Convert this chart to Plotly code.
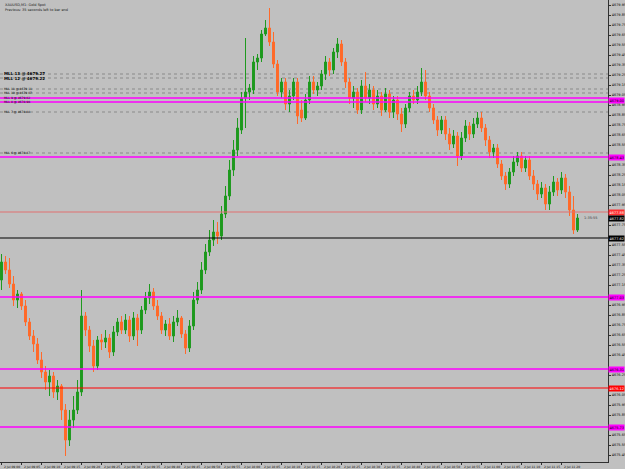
import plotly.graph_objects as go

bar_index = list(range(145))

open_ = [4677.20,4677.38,4677.30,4677.16,4677.00,4677.06,4676.94,4676.78,4676.64,4676.56,
4676.40,4676.28,4676.18,4676.24,4676.08,4676.14,4675.90,4675.60,4675.80,4675.90,
4676.08,4676.84,4676.70,4676.54,4676.34,4676.60,4676.58,4676.62,4676.48,4676.68,
4676.78,4676.70,4676.80,4676.64,4676.82,4676.70,4676.90,4677.02,4677.08,4676.94,
4676.84,4676.70,4676.76,4676.64,4676.78,4676.82,4676.66,4676.52,4676.74,4677.00,
4677.10,4677.30,4677.48,4677.60,4677.68,4677.64,4677.86,4678.04,4678.30,4678.50,
4678.70,4679.02,4679.08,4679.10,4679.38,4679.42,4679.66,4679.72,4679.58,4679.36,
4679.08,4679.18,4678.96,4679.04,4679.18,4678.90,4678.82,4679.00,4679.18,4679.10,
4679.14,4679.26,4679.38,4679.30,4679.48,4679.56,4679.38,4679.18,4679.02,4679.08,
4678.90,4679.14,4679.02,4679.10,4678.96,4679.04,4678.90,4679.06,4678.88,4679.00,
4678.86,4678.76,4678.92,4679.04,4679.00,4679.08,4679.18,4679.04,4678.92,4678.80,
4678.70,4678.80,4678.66,4678.56,4678.64,4678.44,4678.62,4678.74,4678.66,4678.76,
4678.82,4678.72,4678.60,4678.48,4678.52,4678.36,4678.24,4678.16,4678.28,4678.38,
4678.44,4678.32,4678.40,4678.24,4678.16,4678.06,4678.12,4677.96,4678.08,4678.18,
4678.10,4678.22,4678.08,4677.90,4677.70]

high = [4677.46,4677.44,4677.42,4677.24,4677.10,4677.08,4677.00,4676.82,4676.70,4676.62,
4676.48,4676.34,4676.30,4676.28,4676.20,4676.16,4675.96,4675.90,4676.04,4676.20,
4677.10,4676.88,4676.74,4676.60,4676.64,4676.66,4676.70,4676.66,4676.74,4676.82,
4676.84,4676.86,4676.84,4676.88,4676.86,4676.94,4677.08,4677.16,4677.12,4677.00,
4676.88,4676.80,4676.82,4676.84,4676.90,4676.84,4676.70,4676.80,4677.08,4677.18,
4677.38,4677.56,4677.70,4677.80,4677.78,4677.94,4678.14,4678.40,4678.60,4678.82,
4679.08,4679.62,4679.16,4679.44,4679.46,4679.70,4679.80,4679.92,4679.68,4679.40,
4679.22,4679.22,4679.10,4679.22,4679.22,4679.00,4679.06,4679.24,4679.24,4679.18,
4679.30,4679.44,4679.42,4679.52,4679.62,4679.60,4679.42,4679.22,4679.14,4679.12,
4679.20,4679.28,4679.16,4679.14,4679.10,4679.08,4679.12,4679.10,4679.04,4679.04,
4678.92,4678.96,4679.08,4679.10,4679.14,4679.32,4679.30,4679.08,4678.96,4678.84,
4678.84,4678.84,4678.72,4678.70,4678.68,4678.68,4678.80,4678.78,4678.82,4678.88,
4678.88,4678.76,4678.64,4678.56,4678.56,4678.40,4678.28,4678.32,4678.44,4678.48,
4678.48,4678.44,4678.44,4678.30,4678.20,4678.18,4678.16,4678.14,4678.24,4678.22,
4678.28,4678.26,4678.14,4678.04,4677.86]

low = [4677.10,4677.26,4677.12,4676.94,4676.92,4676.90,4676.74,4676.60,4676.48,4676.36,
4676.22,4676.10,4676.04,4676.02,4676.00,4675.80,4675.44,4675.54,4675.72,4675.86,
4676.04,4676.64,4676.48,4676.28,4676.30,4676.50,4676.52,4676.42,4676.44,4676.64,
4676.66,4676.66,4676.58,4676.60,4676.54,4676.66,4676.86,4676.96,4676.90,4676.80,
4676.66,4676.64,4676.60,4676.58,4676.74,4676.62,4676.46,4676.48,4676.70,4676.96,
4677.06,4677.26,4677.44,4677.54,4677.56,4677.60,4677.82,4678.00,4678.24,4678.44,
4678.66,4678.72,4679.00,4679.06,4679.30,4679.38,4679.64,4679.54,4679.32,4679.04,
4679.02,4678.90,4678.88,4679.00,4678.76,4678.78,4678.80,4678.96,4679.06,4679.04,
4679.10,4679.20,4679.24,4679.26,4679.42,4679.34,4679.12,4678.96,4678.92,4678.86,
4678.86,4678.98,4678.96,4678.90,4678.92,4678.84,4678.88,4678.82,4678.82,4678.80,
4678.68,4678.72,4678.88,4678.96,4678.96,4679.04,4679.00,4678.88,4678.76,4678.64,
4678.66,4678.60,4678.50,4678.52,4678.34,4678.40,4678.58,4678.60,4678.62,4678.72,
4678.68,4678.54,4678.42,4678.42,4678.32,4678.20,4678.10,4678.12,4678.24,4678.34,
4678.28,4678.28,4678.20,4678.10,4678.00,4678.02,4677.90,4677.90,4678.04,4678.04,
4678.06,4678.02,4677.84,4677.66,4677.68]

close = [4677.38,4677.30,4677.16,4677.00,4677.06,4676.94,4676.78,4676.64,4676.56,4676.40,
4676.28,4676.18,4676.24,4676.08,4676.14,4675.90,4675.60,4675.80,4675.90,4676.08,
4676.84,4676.70,4676.54,4676.34,4676.60,4676.58,4676.62,4676.48,4676.68,4676.78,
4676.70,4676.80,4676.64,4676.82,4676.70,4676.90,4677.02,4677.08,4676.94,4676.84,
4676.70,4676.76,4676.64,4676.78,4676.82,4676.66,4676.52,4676.74,4677.00,4677.10,
4677.30,4677.48,4677.60,4677.68,4677.64,4677.86,4678.04,4678.30,4678.50,4678.72,
4679.02,4679.08,4679.12,4679.38,4679.42,4679.66,4679.72,4679.58,4679.36,4679.08,
4679.18,4678.96,4679.04,4679.18,4678.84,4678.82,4679.00,4679.18,4679.10,4679.14,
4679.26,4679.38,4679.30,4679.48,4679.56,4679.38,4679.18,4679.02,4679.08,4678.90,
4679.14,4679.02,4679.10,4678.96,4679.04,4678.90,4679.06,4678.88,4679.00,4678.86,
4678.76,4678.92,4679.04,4679.00,4679.08,4679.18,4679.04,4678.92,4678.80,4678.70,
4678.80,4678.66,4678.56,4678.64,4678.44,4678.62,4678.74,4678.66,4678.76,4678.82,
4678.72,4678.60,4678.48,4678.52,4678.36,4678.24,4678.16,4678.28,4678.38,4678.44,
4678.32,4678.40,4678.24,4678.16,4678.06,4678.12,4677.96,4678.08,4678.18,4678.10,
4678.22,4678.08,4677.90,4677.70,4677.82]

# time axis labels (every 5 bars)
time_tick_bars = [0,5,10,15,20,25,30,35,40,45,50,55,60,65,70,75,80,85,90,95,100,105,110,115,120,125,130,135,140]
time_tick_labels = ["2 Jul 09:00","2 Jul 09:05","2 Jul 09:10","2 Jul 09:15","2 Jul 09:20","2 Jul 09:25",
                    "2 Jul 09:30","2 Jul 09:35","2 Jul 09:40","2 Jul 09:45","2 Jul 09:50","2 Jul 09:55",
                    "2 Jul 10:00","2 Jul 10:05","2 Jul 10:10","2 Jul 10:15","2 Jul 10:20","2 Jul 10:25",
                    "2 Jul 10:30","2 Jul 10:35","2 Jul 10:40","2 Jul 10:45","2 Jul 10:50","2 Jul 10:55",
                    "2 Jul 11:00","2 Jul 11:05","2 Jul 11:10","2 Jul 11:15","2 Jul 11:20"]

# price axis tick labels (those hidden under the level boxes are left out)
price_ticks = [4679.95,4679.85,4679.75,4679.65,4679.55,4679.45,4679.35,4679.25,4679.15,4679.05,
               4678.95,4678.85,4678.75,4678.65,4678.55,4678.35,4678.25,4678.15,4678.05,
               4677.95,4677.75,4677.55,4677.45,4677.35,4677.25,4677.15,
               4676.95,4676.85,4676.75,4676.65,4676.55,4676.45,4676.25,
               4676.05,4675.95,4675.85,4675.65,4675.55,4675.45]

# horizontal levels
magenta_levels = [4679.02, 4678.98, 4678.43, 4677.03, 4676.31, 4675.73]
red_levels = [4676.12]
salmon_levels = [4677.88]
black_levels = [4677.62]
dotted_levels = [4679.26, 4679.22, 4679.11, 4679.07, 4678.88, 4678.47]
line_label_levels = [4679.11, 4679.07, 4679.02, 4678.98, 4678.88, 4678.47]
line_label_texts = ["MLL 11 @ 4679.11", "MLL 10 @ 4679.07", "MLL 9 @ 4679.02", "MLL 8 @ 4678.98",
                    "MLL 7 @ 4678.88", "MLL 6 @ 4678.47"]
bold_label_levels = [4679.27, 4679.22]
bold_label_texts = ["MLL 13 @ 4679.27", "MLL 12 @ 4679.22"]

bid_price = 4677.82

GREEN = "#1f9a1f"
ORANGE = "#ff6a2a"
MAGENTA = "#ff00ff"
BG = "#c0c0c0"

fig = go.Figure()
fig.add_trace(go.Candlestick(
    x=bar_index, open=open_, high=high, low=low, close=close,
    increasing=dict(line=dict(color=GREEN, width=1), fillcolor=GREEN),
    decreasing=dict(line=dict(color=ORANGE, width=1), fillcolor=ORANGE),
    whiskerwidth=0, showlegend=False, hoverinfo="skip"))

shapes = []
for lv in dotted_levels:
    shapes.append(dict(type="line", xref="paper", x0=0, x1=1, yref="y", y0=lv, y1=lv,
                       line=dict(color="#8a8a8a", width=1, dash="dot"), layer="below"))
for lv in magenta_levels:
    shapes.append(dict(type="line", xref="paper", x0=0, x1=1, yref="y", y0=lv, y1=lv,
                       line=dict(color=MAGENTA, width=1.5)))
for lv in red_levels:
    shapes.append(dict(type="line", xref="paper", x0=0, x1=1, yref="y", y0=lv, y1=lv,
                       line=dict(color="#ff0000", width=1.2)))
for lv in salmon_levels:
    shapes.append(dict(type="line", xref="paper", x0=0, x1=1, yref="y", y0=lv, y1=lv,
                       line=dict(color="#e07070", width=1)))
for lv in black_levels:
    shapes.append(dict(type="line", xref="paper", x0=0, x1=1, yref="y", y0=lv, y1=lv,
                       line=dict(color="#000000", width=1)))

annotations = []
# x-axis time labels
for b, t in zip(time_tick_bars, time_tick_labels):
    annotations.append(dict(x=b, xref="x", y=0, yref="paper", yshift=-1, text=t, showarrow=False,
                            xanchor="left", yanchor="top", font=dict(size=3, color="#000000")))
# left labels on lines
for lv, t in zip(line_label_levels, line_label_texts):
    annotations.append(dict(x=0.003, xref="paper", y=lv, yref="y", text=t, showarrow=False,
                            xanchor="left", yanchor="middle", font=dict(size=3, color="#000000")))
for lv, t in zip(bold_label_levels, bold_label_texts):
    annotations.append(dict(x=0.003, xref="paper", y=lv, yref="y", text="<b>" + t + "</b>", showarrow=False,
                            xanchor="left", yanchor="middle", font=dict(size=4, color="#000000")))
# right price boxes
boxes = [(lv, MAGENTA, "#000000") for lv in [4679.00, 4678.43, 4677.03, 4676.31, 4675.73]]
boxes += [(4676.12, "#ff0000", "#ffffff"), (4677.88, "#ff3030", "#ffffff"),
          (bid_price, "#000000", "#ffffff"), (4677.62, "#000000", "#ffffff")]
for lv, bg, fc in boxes:
    annotations.append(dict(x=1, xref="paper", y=lv, yref="y", text=f"{lv:.2f}", showarrow=False,
                            xanchor="left", yanchor="middle", bgcolor=bg, borderpad=0.5,
                            font=dict(size=3.5, color=fc)))
annotations.append(dict(x=bar_index[-1], xref="x", y=bid_price, yref="y", xshift=4, text="1:35:55",
                        showarrow=False, xanchor="left", yanchor="middle",
                        font=dict(size=3.5, color="#404040")))
# header text
annotations.append(dict(x=0.005, xref="paper", y=1, yref="paper", yshift=-1,
                        text="XAUUSD,M1: Gold Spot", showarrow=False, xanchor="left", yanchor="top",
                        font=dict(size=3.5, color="#202020")))
annotations.append(dict(x=0.005, xref="paper", y=1, yref="paper", yshift=-6,
                        text="Previous: 35 seconds left to bar end", showarrow=False, xanchor="left", yanchor="top",
                        font=dict(size=3.5, color="#202020")))

fig.update_layout(
    width=625, height=469,
    margin=dict(l=0, r=17, t=0, b=7),
    paper_bgcolor=BG, plot_bgcolor=BG,
    shapes=shapes, annotations=annotations,
    xaxis=dict(range=[-0.375, 151.625], rangeslider=dict(visible=False), showgrid=False, zeroline=False,
               tickvals=time_tick_bars, showticklabels=False, ticks="outside", ticklen=2,
               tickcolor="#303030", showline=True, linecolor="#303030", linewidth=1, mirror=False),
    yaxis=dict(range=[4675.38, 4680.00], side="right", showgrid=False, zeroline=False,
               tickvals=price_ticks, tickformat=".2f", ticks="outside", ticklen=2,
               tickcolor="#303030", tickfont=dict(size=3.5, color="#000000"),
               showline=True, linecolor="#303030", linewidth=1),
    font=dict(family="DejaVu Sans"),
)

fig.write_html("out.html")
